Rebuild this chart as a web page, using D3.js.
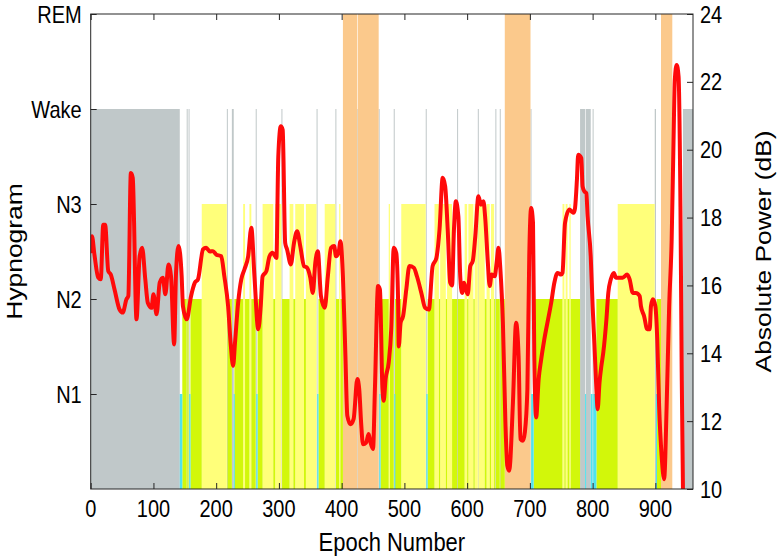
<!DOCTYPE html>
<html>
<head>
<meta charset="utf-8">
<script src="https://cdn.jsdelivr.net/npm/d3@7/dist/d3.min.js"></script>
<style>
  html, body { margin: 0; padding: 0; background: #fff; }
  svg { display: block; font-family: "Liberation Sans", Arial, Helvetica, sans-serif; }
</style>
</head>
<body>
<svg id="chart" width="777" height="560"></svg>
<script>
// ---------------- DATA ----------------
const totalEpochs = 960;
// hypnogram stage levels (1..5) and their names
const stageNames = ["N1", "N2", "N3", "Wake", "REM"];
const stageColors = { 1: "#4fe3ee", 2: "#d2f70a", 3: "#ffff7a", 4: "#c0c8c9", 5: "#fbc98c" };
// run-length scoring: each run starts at runStart[i] and has stage runStage[i] (0 = unscored)
const runStart = [0,142,146,153,154,156,157,159,177,217,218,225,228,229,243,246,253,256,263,264,266,274,291,294,304,305,317,323,326,340,343,360,361,363,373,390,391,396,398,402,425,426,459,460,462,475,477,483,484,485,495,534,535,537,548,555,557,566,568,576,584,585,596,600,602,610,612,617,618,628,631,636,638,643,645,646,652,653,660,701,702,706,752,755,757,760,763,765,780,788,789,797,800,801,806,840,899,901,902,909,927,944];
const runStage = [4,1,2,4,2,4,1,2,3,4,2,4,1,2,3,2,3,2,4,1,2,3,2,3,4,2,3,2,3,2,3,4,1,2,3,4,2,3,2,5,4,5,4,1,2,3,2,4,1,2,3,4,1,2,3,2,3,2,3,2,4,2,3,2,3,2,3,4,3,2,3,2,3,2,4,2,4,2,5,4,1,2,3,2,3,2,3,2,4,1,4,1,4,1,2,3,4,1,2,5,0,4];
// absolute power (dB) read at sample epochs
const powerEpoch = [0,2,6,12,16,20,23,28,32,38,46,51,57,60,64,67,73,78,82,87,91,97,100,105,110,115,119,124,128,133,136,140,145,147,153,160,166,171,179,184,190,195,200,208,213,219,223,227,230,235,240,245,251,256,261,267,271,274,280,285,290,296,299,303,306,310,313,319,324,329,334,340,345,350,354,358,362,367,373,378,383,388,391,395,398,402,406,409,414,419,425,428,431,434,439,443,446,450,453,458,461,465,467,470,475,479,483,487,490,491,494,498,503,508,515,520,527,533,539,545,551,556,561,565,569,573,576,579,582,586,589,592,595,598,601,605,609,613,618,622,626,629,633,636,639,644,647,650,653,657,661,664,667,673,678,682,685,689,692,696,699,702,705,707,710,714,718,723,729,734,739,744,750,752,756,763,766,770,772,775,777,782,784,787,790,792,797,800,803,806,808,811,814,817,822,825,829,834,837,843,848,855,859,864,869,875,877,882,887,891,893,896,900,903,906,910,914,918,922,926,929,931,934,937,940,942,944,945];
const powerDb = [17.0,17.45,16.9,16.23,16.18,17.79,17.79,16.42,16.32,15.88,15.29,15.2,15.59,15.69,19.31,19.17,15.0,16.86,17.11,16.18,15.49,15.34,15.74,15.15,16.08,16.23,15.74,16.62,16.27,14.26,16.37,17.16,16.27,15.39,15.0,15.69,16.08,16.18,17.06,17.11,17.0,17.01,16.91,16.86,16.27,15.39,14.31,13.63,14.31,15.49,16.18,16.47,16.86,17.7,16.27,14.71,15.39,16.27,16.42,16.86,16.96,16.81,19.8,20.69,20.59,17.25,17.06,16.62,17.25,17.6,17.16,16.57,16.52,16.23,15.78,16.67,17.01,15.69,15.34,16.27,17.11,17.16,16.86,16.96,17.3,16.27,13.92,12.16,11.91,12.06,13.24,12.94,11.96,11.32,11.37,11.62,11.37,11.18,12.94,15.98,15.88,12.94,12.6,13.24,13.73,14.71,17.11,16.96,15.49,14.2,14.9,15.1,15.88,16.57,16.52,16.27,15.78,15.34,15.29,16.57,16.81,17.65,19.17,18.92,17.65,16.08,16.0,17.65,18.48,18.04,16.27,15.78,16.08,15.88,15.74,16.57,16.72,17.45,18.63,18.38,18.48,17.94,16.67,15.98,16.32,16.27,16.67,17.11,16.47,14.9,11.96,10.69,10.54,12.55,14.9,13.92,11.47,11.42,11.67,12.94,16.86,18.28,17.84,13.92,12.11,13.24,13.82,14.41,15.0,15.49,16.08,16.37,16.32,16.37,17.84,18.24,18.19,18.14,18.28,19.12,19.85,19.75,18.92,18.77,18.72,18.04,16.86,15.39,14.22,12.94,12.35,13.14,13.63,14.02,15.0,15.78,16.18,16.37,16.23,16.23,16.23,16.32,16.18,15.78,15.78,15.69,15.39,15.1,14.71,14.71,15.39,15.59,15.39,14.41,12.45,10.98,10.29,12.45,15.39,17.35,20.29,22.06,22.5,22.16,18.33,13.43,10.0,9.5];
const xTickValues = [0,100,200,300,400,500,600,700,800,900];
const stageTickValues = [1,2,3,4,5];
const powerTickValues = [10,12,14,16,18,20,22,24];

// ---------------- LAYOUT ----------------
const svg = d3.select("#chart");
const L = 90.7, R = 693, T = 14, B = 489;
const axisColor = "#262626";
const stretch = 1.2;          // glyphs in the reference are vertically elongated
const tickFont = "20px", titleFont = "22px";

const x = d3.scaleLinear().domain([0, totalEpochs]).range([L, R]);
const yStage = d3.scaleLinear().domain([0, 5]).range([B, T]);
const yPow = d3.scaleLinear().domain([10, 24]).range([B, T]);

svg.append("defs").append("clipPath").attr("id", "plotClip")
  .append("rect").attr("x", L).attr("y", T).attr("width", R - L).attr("height", B - T);

// build runs
const runs = runStart.map((s, i) => ({
  start: s,
  end: i < runStart.length - 1 ? runStart[i + 1] : totalEpochs,
  stage: runStage[i]
})).filter(d => d.stage > 0);

const drawOrder = [4, 5, 3, 2, 1];
const gBars = svg.append("g").attr("clip-path", "url(#plotClip)");
drawOrder.forEach(st => {
  gBars.selectAll(null)
    .data(runs.filter(d => d.stage === st))
    .enter().append("rect")
    .attr("x", d => x(d.start))
    .attr("width", d => Math.max(x(d.end) - x(d.start), 1.0))
    .attr("y", d => yStage(d.stage))
    .attr("height", d => B - yStage(d.stage))
    .attr("fill", stageColors[st]);
});

// power line
const pts = powerEpoch.map((e, i) => [e, powerDb[i]]);
const line = d3.line().x(d => x(d[0])).y(d => yPow(d[1])).curve(d3.curveMonotoneX);
svg.append("path")
  .attr("clip-path", "url(#plotClip)")
  .attr("d", line(pts))
  .attr("fill", "none")
  .attr("stroke", "#ff0a0a")
  .attr("stroke-width", 4)
  .attr("stroke-linejoin", "round")
  .attr("stroke-linecap", "round");

// axes (MATLAB style, ticks inside)
const tickLen = 6;
const gAx = svg.append("g");
gAx.append("rect").attr("x", L).attr("y", T).attr("width", R - L).attr("height", B - T)
  .attr("fill", "none").attr("stroke", axisColor).attr("stroke-width", 1);

const axes = [
  gAx.append("g").attr("transform", `translate(0,${B})`).call(d3.axisBottom(x).tickValues(xTickValues).tickSize(-tickLen).tickFormat("")),
  gAx.append("g").attr("transform", `translate(0,${T})`).call(d3.axisTop(x).tickValues(xTickValues).tickSize(-tickLen).tickFormat("")),
  gAx.append("g").attr("transform", `translate(${L},0)`).call(d3.axisLeft(yStage).tickValues(stageTickValues).tickSize(-tickLen).tickFormat("")),
  gAx.append("g").attr("transform", `translate(${R},0)`).call(d3.axisRight(yPow).tickValues(powerTickValues).tickSize(-tickLen).tickFormat(""))
];
axes.forEach(g => {
  g.select(".domain").remove();
  g.selectAll(".tick line").attr("stroke", axisColor);
  g.selectAll(".tick text").remove();
});

// tick labels (stretched vertically like the reference)
function label(px, py, txt, anchor, size, rotate) {
  svg.append("text")
    .attr("transform", `translate(${px},${py}) scale(1,${stretch})` + (rotate ? " rotate(-90)" : ""))
    .attr("text-anchor", anchor)
    .attr("dy", rotate ? "0" : "0.36em")
    .style("font-size", size)
    .attr("fill", "#000")
    .text(txt);
}
xTickValues.forEach(v => label(x(v), 508, String(v), "middle", tickFont));
stageTickValues.forEach(v => label(L - 9, yStage(v), stageNames[v - 1], "end", tickFont));
powerTickValues.forEach(v => label(R + 7, yPow(v), String(v), "start", tickFont));

// axis titles
label((L + R) / 2, 541, "Epoch Number", "middle", titleFont);
label(22, (T + B) / 2 / stretch * stretch, "Hypnogram", "middle", titleFont, true);
label(771, (T + B) / 2, "Absolute Power (dB)", "middle", titleFont, true);
</script>
</body>
</html>
